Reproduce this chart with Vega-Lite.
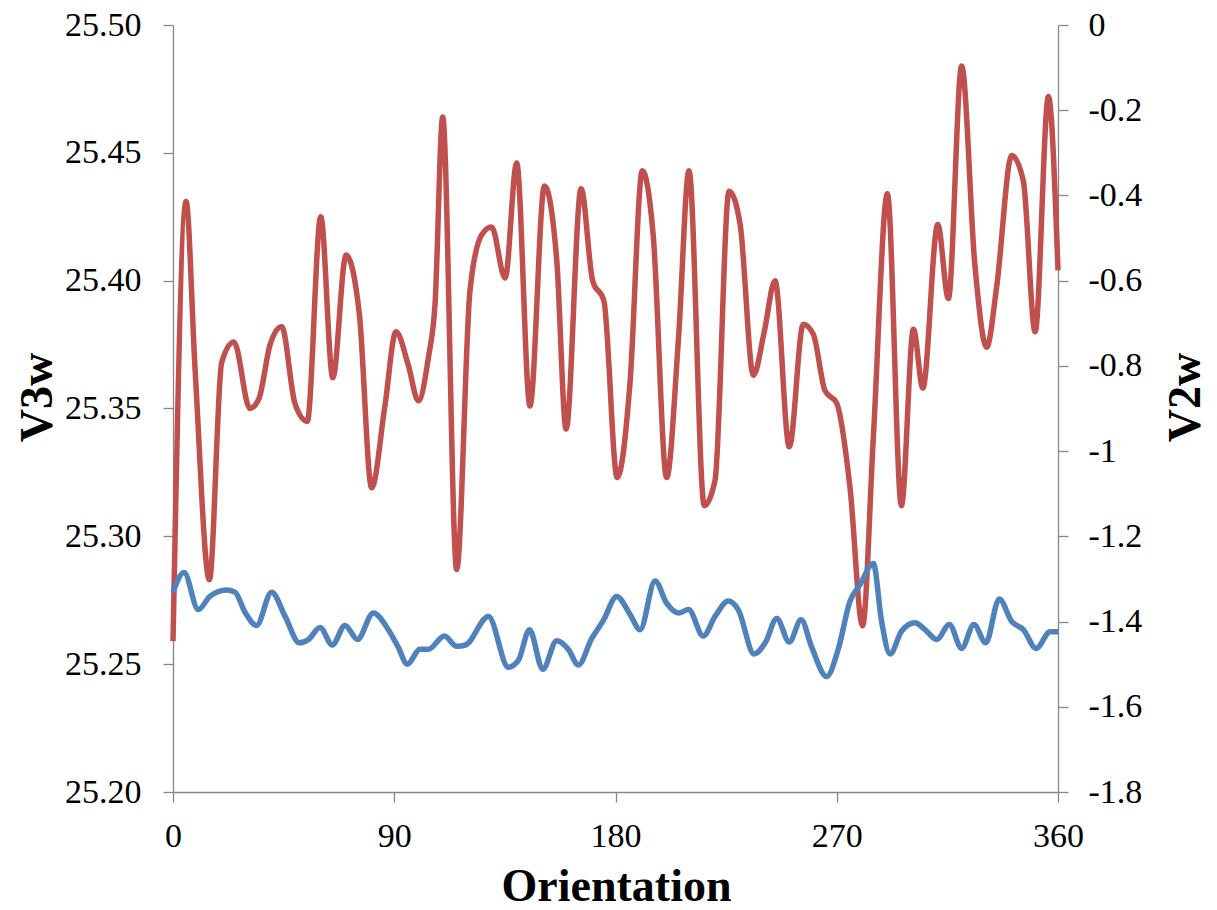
{
  "$schema": "https://vega.github.io/schema/vega-lite/v6.json",
  "width": 885,
  "height": 767,
  "autosize": {"type": "none"},
  "padding": {"left": 173, "top": 25, "right": 159, "bottom": 118},
  "background": "white",
  "config": {
    "view": {"stroke": null},
    "axis": {
      "labelFont": "Liberation Serif",
      "titleFont": "Liberation Serif",
      "labelColor": "#000000",
      "titleColor": "#000000",
      "labelFontSize": 34,
      "titleFontSize": 46,
      "titleFontWeight": "bold",
      "domainColor": "#868686",
      "tickColor": "#868686",
      "domainWidth": 1.3,
      "tickWidth": 1.3,
      "tickSize": 10,
      "grid": false
    }
  },
  "datasets": {
    "v3w": [
      {"angle": 0, "v": 25.259}, {"angle": 5.3, "v": 25.431}, {"angle": 9.0, "v": 25.365}, {"angle": 14.8, "v": 25.283},
      {"angle": 19.8, "v": 25.368}, {"angle": 24.8, "v": 25.376}, {"angle": 31.3, "v": 25.350}, {"angle": 35.0, "v": 25.354},
      {"angle": 39.5, "v": 25.375}, {"angle": 44.2, "v": 25.382}, {"angle": 49.6, "v": 25.352}, {"angle": 54.6, "v": 25.345},
      {"angle": 60.1, "v": 25.425}, {"angle": 65.0, "v": 25.362}, {"angle": 70.4, "v": 25.410}, {"angle": 75.8, "v": 25.387},
      {"angle": 80.8, "v": 25.319}, {"angle": 86.2, "v": 25.351}, {"angle": 90.7, "v": 25.380}, {"angle": 95.7, "v": 25.367},
      {"angle": 99.8, "v": 25.353}, {"angle": 103.9, "v": 25.370}, {"angle": 106.6, "v": 25.391}, {"angle": 109.7, "v": 25.464},
      {"angle": 115.4, "v": 25.287}, {"angle": 120.8, "v": 25.396}, {"angle": 125.6, "v": 25.418}, {"angle": 129.6, "v": 25.421},
      {"angle": 135.1, "v": 25.401}, {"angle": 139.8, "v": 25.446}, {"angle": 145.2, "v": 25.351}, {"angle": 151.1, "v": 25.437},
      {"angle": 156.1, "v": 25.408}, {"angle": 159.9, "v": 25.342}, {"angle": 166.0, "v": 25.436}, {"angle": 170.7, "v": 25.400},
      {"angle": 175.3, "v": 25.392}, {"angle": 180.7, "v": 25.323}, {"angle": 185.9, "v": 25.360}, {"angle": 190.9, "v": 25.443},
      {"angle": 195.4, "v": 25.417}, {"angle": 200.8, "v": 25.323}, {"angle": 205.6, "v": 25.377}, {"angle": 209.9, "v": 25.443},
      {"angle": 216.1, "v": 25.312}, {"angle": 220.5, "v": 25.322}, {"angle": 226.2, "v": 25.435}, {"angle": 230.7, "v": 25.422},
      {"angle": 236.1, "v": 25.363}, {"angle": 240.5, "v": 25.380}, {"angle": 244.9, "v": 25.400}, {"angle": 250.7, "v": 25.335},
      {"angle": 256.4, "v": 25.383}, {"angle": 260.5, "v": 25.379}, {"angle": 265.2, "v": 25.357}, {"angle": 270.0, "v": 25.352},
      {"angle": 275.4, "v": 25.319}, {"angle": 280.5, "v": 25.265}, {"angle": 284.9, "v": 25.339}, {"angle": 290.6, "v": 25.434},
      {"angle": 296.3, "v": 25.312}, {"angle": 301.2, "v": 25.381}, {"angle": 305.0, "v": 25.358}, {"angle": 311.1, "v": 25.422},
      {"angle": 315.4, "v": 25.393}, {"angle": 320.8, "v": 25.484}, {"angle": 326.2, "v": 25.406}, {"angle": 331.0, "v": 25.374},
      {"angle": 335.1, "v": 25.398}, {"angle": 341.2, "v": 25.449}, {"angle": 345.9, "v": 25.439}, {"angle": 350.7, "v": 25.380},
      {"angle": 356.1, "v": 25.472}, {"angle": 360, "v": 25.404}
    ],
    "v2w": [
      {"angle": 0, "v": -1.331}, {"angle": 4.5, "v": -1.285}, {"angle": 10.3, "v": -1.372}, {"angle": 15.0, "v": -1.341},
      {"angle": 21.8, "v": -1.326}, {"angle": 25.2, "v": -1.331}, {"angle": 29.3, "v": -1.378}, {"angle": 34.0, "v": -1.409},
      {"angle": 40.1, "v": -1.331}, {"angle": 45.6, "v": -1.388}, {"angle": 51.4, "v": -1.450}, {"angle": 55.1, "v": -1.442},
      {"angle": 59.8, "v": -1.414}, {"angle": 64.8, "v": -1.455}, {"angle": 70.0, "v": -1.409}, {"angle": 75.0, "v": -1.442},
      {"angle": 81.5, "v": -1.380}, {"angle": 87.6, "v": -1.419}, {"angle": 91.6, "v": -1.460}, {"angle": 95.3, "v": -1.500},
      {"angle": 100.5, "v": -1.465}, {"angle": 103.9, "v": -1.465}, {"angle": 110.4, "v": -1.434}, {"angle": 115.4, "v": -1.458},
      {"angle": 119.0, "v": -1.455}, {"angle": 128.3, "v": -1.388}, {"angle": 136.4, "v": -1.507}, {"angle": 140.5, "v": -1.491},
      {"angle": 145.0, "v": -1.419}, {"angle": 150.4, "v": -1.512}, {"angle": 156.1, "v": -1.445}, {"angle": 160.8, "v": -1.465},
      {"angle": 164.9, "v": -1.502}, {"angle": 170.3, "v": -1.440}, {"angle": 175.0, "v": -1.398}, {"angle": 180.5, "v": -1.341},
      {"angle": 185.9, "v": -1.383}, {"angle": 190.0, "v": -1.419}, {"angle": 196.1, "v": -1.305}, {"angle": 200.8, "v": -1.357},
      {"angle": 205.6, "v": -1.380}, {"angle": 209.7, "v": -1.372}, {"angle": 215.7, "v": -1.434}, {"angle": 220.5, "v": -1.388},
      {"angle": 225.9, "v": -1.352}, {"angle": 229.9, "v": -1.372}, {"angle": 236.4, "v": -1.476}, {"angle": 240.9, "v": -1.450},
      {"angle": 245.6, "v": -1.393}, {"angle": 250.7, "v": -1.448}, {"angle": 255.5, "v": -1.396}, {"angle": 259.8, "v": -1.460},
      {"angle": 265.9, "v": -1.529}, {"angle": 270.6, "v": -1.465}, {"angle": 275.4, "v": -1.352}, {"angle": 279.4, "v": -1.314},
      {"angle": 284.9, "v": -1.264}, {"angle": 288.2, "v": -1.398}, {"angle": 291.7, "v": -1.476}, {"angle": 296.4, "v": -1.422},
      {"angle": 301.8, "v": -1.403}, {"angle": 305.9, "v": -1.419}, {"angle": 310.7, "v": -1.442}, {"angle": 315.8, "v": -1.407},
      {"angle": 320.8, "v": -1.463}, {"angle": 325.8, "v": -1.407}, {"angle": 330.6, "v": -1.450}, {"angle": 336.1, "v": -1.347},
      {"angle": 341.2, "v": -1.400}, {"angle": 345.9, "v": -1.419}, {"angle": 351.1, "v": -1.463}, {"angle": 356.8, "v": -1.424},
      {"angle": 360, "v": -1.424}
    ]
  },
  "encoding": {
    "x": {
      "field": "angle",
      "type": "quantitative",
      "scale": {"domain": [0, 360], "nice": false, "zero": false},
      "axis": {
        "values": [0, 90, 180, 270, 360],
        "labelFlush": false,
        "labelPadding": 17,
        "title": "Orientation",
        "titleX": 443,
        "titleY": 108,
        "titleAlign": "center",
        "titleBaseline": "alphabetic"
      }
    }
  },
  "layer": [
    {
      "data": {"name": "v3w"},
      "mark": {"type": "line", "color": "#C0504D", "strokeWidth": 5.5, "interpolate": "monotone"},
      "encoding": {
        "y": {
          "field": "v",
          "type": "quantitative",
          "scale": {"domain": [25.2, 25.5], "nice": false, "zero": false},
          "axis": {
            "orient": "left",
            "values": [25.2, 25.25, 25.3, 25.35, 25.4, 25.45, 25.5],
            "format": ".2f",
            "labelPadding": 22,
            "title": "V3w",
            "titleAngle": 270,
            "titleX": -136,
            "titleY": 372,
            "titleAlign": "center",
            "titleBaseline": "middle"
          }
        }
      }
    },
    {
      "data": {"name": "v2w"},
      "mark": {"type": "line", "color": "#4F81BD", "strokeWidth": 5.5, "interpolate": "monotone"},
      "encoding": {
        "y": {
          "field": "v",
          "type": "quantitative",
          "scale": {"domain": [-1.8, 0], "nice": false, "zero": false},
          "axis": {
            "orient": "right",
            "values": [0, -0.2, -0.4, -0.6, -0.8, -1, -1.2, -1.4, -1.6, -1.8],
            "labelExpr": "'' + datum.value",
            "labelPadding": 20,
            "title": "V2w",
            "titleAngle": 270,
            "titleX": 127,
            "titleY": 372,
            "titleAlign": "center",
            "titleBaseline": "middle"
          }
        }
      }
    }
  ],
  "resolve": {"scale": {"y": "independent"}}
}
